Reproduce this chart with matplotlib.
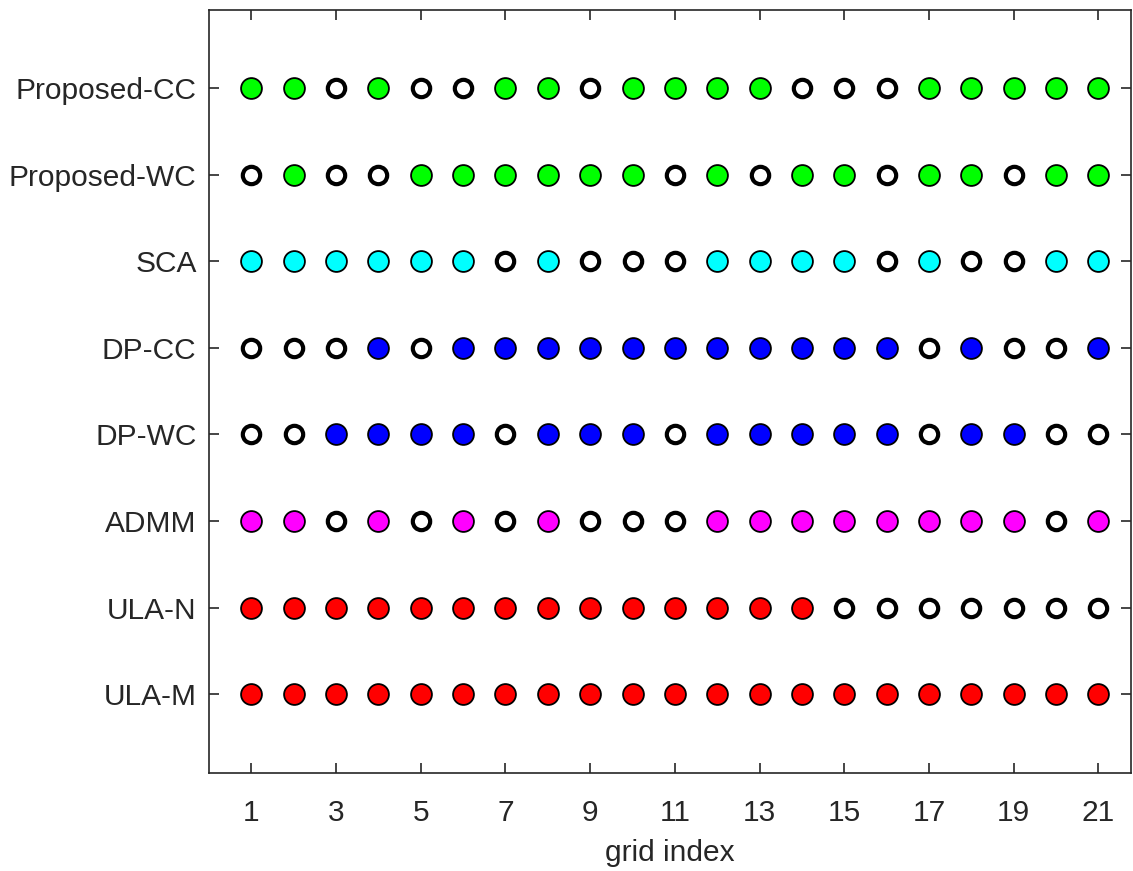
import matplotlib
matplotlib.use("Agg")
import matplotlib.pyplot as plt
import numpy as np

plt.rcParams['font.family'] = ['Liberation Sans', 'DejaVu Sans']

methods = ["ULA-M", "ULA-N", "ADMM", "DP-WC", "DP-CC", "SCA", "Proposed-WC", "Proposed-CC"]
colors = ["#ff0000", "#ff0000", "#ff00ff", "#0000ff", "#0000ff", "#00ffff", "#00ff00", "#00ff00"]
grid = list(range(1, 22))

# 1 = selected (filled), 0 = not selected (open)
ula_m = [1]*21
ula_n = [1,1,1,1,1,1,1,1,1,1,1,1,1,1,0,0,0,0,0,0,0]
admm = [1,1,0,1,0,1,0,1,0,0,0,1,1,1,1,1,1,1,1,0,1]
dp_wc = [0,0,1,1,1,1,0,1,1,1,0,1,1,1,1,1,0,1,1,0,0]
dp_cc = [0,0,0,1,0,1,1,1,1,1,1,1,1,1,1,1,0,1,0,0,1]
sca = [1,1,1,1,1,1,0,1,0,0,0,1,1,1,1,0,1,0,0,1,1]
prop_wc = [0,1,0,0,1,1,1,1,1,1,0,1,0,1,1,0,1,1,0,1,1]
prop_cc = [1,1,0,1,0,0,1,1,0,1,1,1,1,0,0,0,1,1,1,1,1]
selection = [ula_m, ula_n, admm, dp_wc, dp_cc, sca, prop_wc, prop_cc]

fig = plt.figure(figsize=(11.33, 8.71), dpi=100)
ax = fig.add_axes([209/1133, 1-773/871, (1131-209)/1133, (773-10)/871])

text_color = "#262626"
for i, (name, col, sel) in enumerate(zip(methods, colors, selection)):
    y = i + 1
    xs = np.array(grid)
    s = np.array(sel)
    ax.plot(xs[s == 1], np.full((s == 1).sum(), y), 'o', ms=15, mfc=col,
            mec='black', mew=1.3, ls='none')
    ax.plot(xs[s == 0], np.full((s == 0).sum(), y), 'o', ms=12.5, mfc='white',
            mec='black', mew=3.0, ls='none')

ax.set_xlim(0, 21.77)
ax.set_ylim(0.09, 8.9)
ax.set_xticks(range(1, 22, 2))
ax.set_yticks(range(1, 9))
ax.set_yticklabels(methods)
ax.tick_params(direction='in', length=7, width=1.2, top=True, right=True,
               labelsize=21.5, colors=text_color)
ax.tick_params(axis='y', pad=9)
ax.tick_params(axis='x', pad=19)
for sp in ax.spines.values():
    sp.set_color(text_color)
    sp.set_linewidth(1.2)
ax.set_xlabel("grid index", fontsize=21.5, color=text_color, labelpad=8)

fig.savefig("out.png", dpi=100)
